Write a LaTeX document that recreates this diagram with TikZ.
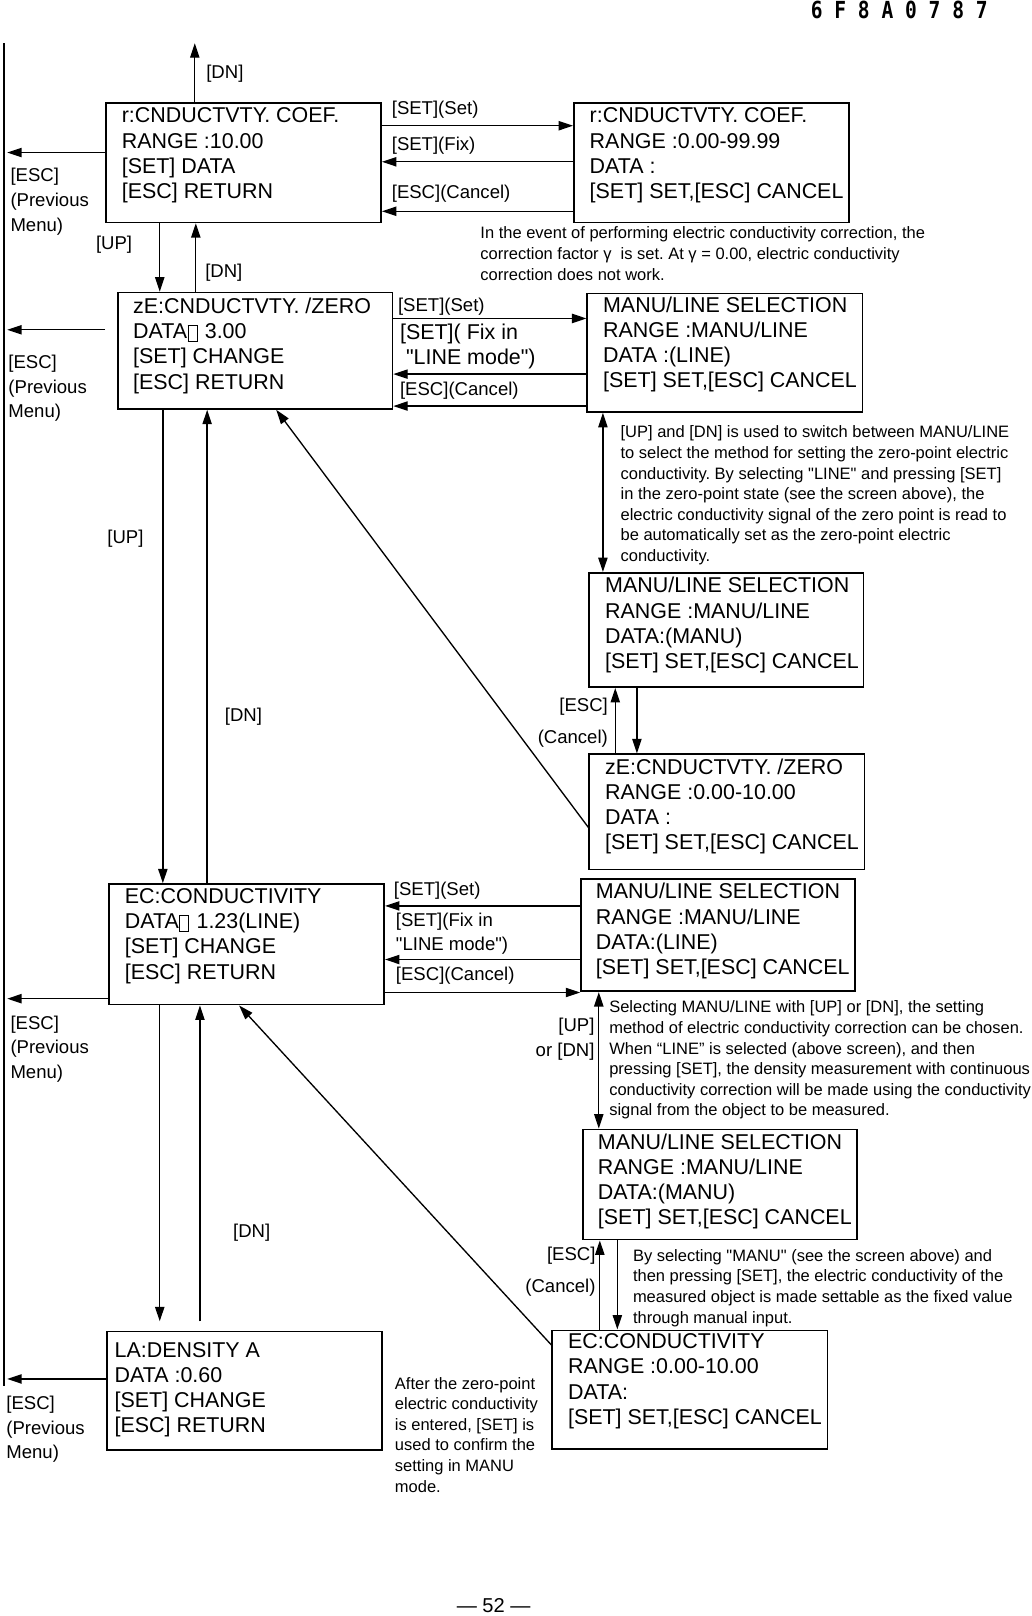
\documentclass[tikz,border=0pt]{standalone}
\usepackage{fontspec}
\setmainfont{Liberation Sans}[Ligatures=TeXOff]
\newfontfamily\hdrfont{DejaVu Sans Mono}
\usetikzlibrary{arrows.meta}
\frenchspacing
\newcommand\tofu{\kern0.5pt\raisebox{-2.5pt}{\setlength\fboxsep{0pt}\setlength\fboxrule{0.7pt}\fbox{\rule{0pt}{15pt}\rule{8pt}{0pt}}}\kern1.5pt}
\newcommand\scrn[8]{%
  \node[scrbox, minimum width=#4pt, minimum height=#5pt, anchor=north west] (#1) at (#2,#3) {};
  \node[scrtext] (#1t) at (#6,#7) {#8};
}
\tikzset{
  scrbox/.style={draw, line width=1.6pt, inner sep=0pt},
  scrtext/.style={font=\fontsize{20.8}{24.4}\selectfont, align=left, inner sep=0pt, anchor=north west},
  lbl/.style={font=\fontsize{18}{24}\selectfont, inner sep=0pt, align=left},
  lblc/.style={lbl, yshift=-2.5pt},
  note/.style={font=\fontsize{16}{20}\selectfont, inner sep=0pt, align=left, anchor=north west},
  conn/.style={line width=1.3pt},
  arr/.style={conn, -{Triangle[length=14pt,width=9pt]}},
  darr/.style={conn, {Triangle[length=14pt,width=9pt]}-{Triangle[length=14pt,width=9pt]}},
}
\begin{document}
\begin{tikzpicture}[x=1pt,y=-1pt]
\useasboundingbox[fill=white] (0,0) rectangle (1001,1568);

% header / footer
\node[font=\hdrfont\bfseries\fontsize{19}{19}\selectfont, inner sep=0pt] (hdr) at (872.5,10) {\scalebox{1}[1.2]{6 F 8 A 0 7 8 7}};
\node[font=\fontsize{19.5}{20}\selectfont, inner sep=0pt] (pg) at (479,1558) {— 52 —};

% screens
\scrn{A}{102}{99}{267}{116}{118}{104.5}{r:CNDUCTVTY. COEF.\\RANGE :10.00\\{}[SET] DATA\\{}[ESC] RETURN}
\scrn{B}{556}{99}{267}{116}{572}{104.5}{r:CNDUCTVTY. COEF.\\RANGE :0.00-99.99\\DATA :\\{}[SET] SET,[ESC] CANCEL}
\scrn{C}{114}{283}{266}{113}{129}{289}{zE:CNDUCTVTY. /ZERO\\DATA\tofu{} 3.00\\{}[SET] CHANGE\\{}[ESC] RETURN}
\scrn{D}{569}{284}{267}{115}{585}{288}{MANU/LINE SELECTION\\RANGE :MANU/LINE\\DATA :(LINE)\\{}[SET] SET,[ESC] CANCEL}
\scrn{E}{571}{555}{266}{111}{587}{560}{MANU/LINE SELECTION\\RANGE :MANU/LINE\\DATA:(MANU)\\{}[SET] SET,[ESC] CANCEL}
\scrn{F}{571}{731}{267}{112}{587}{736}{zE:CNDUCTVTY. /ZERO\\RANGE :0.00-10.00\\DATA :\\{}[SET] SET,[ESC] CANCEL}
\scrn{G}{105}{857}{267}{117}{121}{862}{EC:CONDUCTIVITY\\DATA\tofu{} 1.23(LINE)\\{}[SET] CHANGE\\{}[ESC] RETURN}
\scrn{H}{563}{852}{266}{109}{578}{857}{MANU/LINE SELECTION\\RANGE :MANU/LINE\\DATA:(LINE)\\{}[SET] SET,[ESC] CANCEL}
\scrn{I}{565}{1095}{266}{107}{580}{1100}{MANU/LINE SELECTION\\RANGE :MANU/LINE\\DATA:(MANU)\\{}[SET] SET,[ESC] CANCEL}
\scrn{J}{535}{1290}{267}{115}{551}{1294}{EC:CONDUCTIVITY\\RANGE :0.00-10.00\\DATA:\\{}[SET] SET,[ESC] CANCEL}
\scrn{K}{103}{1291}{267}{115}{111}{1302}{LA:DENSITY A\\DATA :0.60\\{}[SET] CHANGE\\{}[ESC] RETURN}

% left return line
\coordinate (Ltop) at (4,42);
\coordinate (Lbot) at (4,1345);
\draw[conn] (Ltop) -- (Lbot);

% top DN
\coordinate (topDN) at (189,42);
\draw[arr] (topDN |- A.north) -- (topDN);
\node[lblc, anchor=west] (lDN0) at (200,69) {[DN]};

% ESC to previous menu
\coordinate (e1) at (7,148);
\draw[arr] (A.west |- e1) -- (e1);
\coordinate (e2s) at (102,320);
\coordinate (e2) at (7,320);
\draw[arr] (e2s) -- (e2);
\coordinate (e3) at (7,969);
\draw[arr] (G.west |- e3) -- (e3);
\coordinate (e4) at (7,1338);
\draw[arr] (K.west |- e4) -- (e4);
\node[lbl, anchor=north west] (lE1) at (10,163.3) {[ESC]\\(Previous\\Menu)};
\node[lbl, anchor=north west] (lE2) at (8,344.3) {[ESC]\\(Previous\\Menu)};
\node[lbl, anchor=north west] (lE3) at (10,985.3) {[ESC]\\(Previous\\Menu)};
\node[lbl, anchor=north west] (lE4) at (6,1354.3) {[ESC]\\(Previous\\Menu)};

% A <-> B
\coordinate (ab1) at (0,122);
\coordinate (ab2) at (0,157);
\coordinate (ab3) at (0,205);
\draw[arr] (A.east |- ab1) -- (B.west |- ab1);
\draw[arr] (B.west |- ab2) -- (A.east |- ab2);
\draw[arr] (B.west |- ab3) -- (A.east |- ab3);
\node[lblc, anchor=west] (lab1) at (380,104) {[SET](Set)};
\node[lblc, anchor=west] (lab2) at (380,139) {[SET](Fix)};
\node[lblc, anchor=west] (lab3) at (380,185) {[ESC](Cancel)};

% A <-> C
\coordinate (ac1) at (155,0);
\coordinate (ac2) at (190,0);
\draw[arr] (ac1 |- A.south) -- (ac1 |- C.north);
\draw[arr] (ac2 |- C.north) -- (ac2 |- A.south);
\node[lblc, anchor=west] (lac1) at (93,235) {[UP]};
\node[lblc, anchor=west] (lac2) at (199,262) {[DN]};

% C <-> D
\coordinate (cd1) at (0,309);
\coordinate (cd2) at (0,363);
\coordinate (cd3) at (0,394);
\draw[arr] (C.east |- cd1) -- (D.west |- cd1);
\draw[arr] (D.west |- cd2) -- (C.east |- cd2);
\draw[arr] (D.west |- cd3) -- (C.east |- cd3);
\node[lblc, anchor=west] (lcd1) at (386,295) {[SET](Set)};
\node[scrtext] (lcd2) at (388,314.3) {[SET]( Fix in\\{}\ "LINE mode")};
\node[lblc, anchor=west] (lcd3) at (388,377) {[ESC](Cancel)};

% D <-> E, E <-> F
\coordinate (de) at (585,0);
\draw[darr] (de |- D.south) -- (de |- E.north);
\coordinate (ef1) at (618,0);
\coordinate (ef2) at (597,0);
\draw[arr] (ef1 |- E.south) -- (ef1 |- F.north);
\draw[arr] (ef2 |- F.north) -- (ef2 |- E.south);
\node[lblc, anchor=east] (lef1) at (590,683) {[ESC]};
\node[lblc, anchor=east] (lef2) at (590,714) {(Cancel)};

% F -> C diagonal
\coordinate (d1) at (0,803);
\coordinate (d1e) at (268,0);
\draw[arr] (F.west |- d1) -- (d1e |- C.south);

% C <-> G
\coordinate (cg1) at (158,0);
\coordinate (cg2) at (201,0);
\draw[arr] (cg1 |- C.south) -- (cg1 |- G.north);
\draw[arr] (cg2 |- G.north) -- (cg2 |- C.south);
\node[lblc, anchor=west] (lcg1) at (104,520) {[UP]};
\node[lblc, anchor=west] (lcg2) at (218,693) {[DN]};

% G <-> H
\coordinate (gh1) at (0,879);
\coordinate (gh2) at (0,931);
\coordinate (gh3) at (0,963);
\draw[arr] (H.west |- gh1) -- (G.east |- gh1);
\draw[arr] (H.west |- gh2) -- (G.east |- gh2);
\draw[arr, line width=1pt] (G.east |- gh3) -- (H.west |- gh3);
\node[lblc, anchor=west] (lgh1) at (382,862) {[SET](Set)};
\node[lbl, anchor=north west] (lgh2) at (384,885.3) {[SET](Fix in\\"LINE mode")};
\node[lblc, anchor=west] (lgh3) at (384,944) {[ESC](Cancel)};

% H <-> I, I <-> J
\coordinate (hi) at (581,0);
\draw[darr] (hi |- H.south) -- (hi |- I.north);
\node[lblc, anchor=east] (lhi1) at (577,994) {[UP]};
\node[lblc, anchor=east] (lhi2) at (577,1018) {or [DN]};
\coordinate (ij1) at (582,0);
\coordinate (ij2) at (599,0);
\draw[arr] (ij1 |- J.north) -- (ij1 |- I.south);
\draw[arr] (ij2 |- I.south) -- (ij2 |- J.north);
\node[lblc, anchor=east] (lij1) at (578,1216) {[ESC]};
\node[lblc, anchor=east] (lij2) at (578,1247) {(Cancel)};

% J -> G diagonal
\coordinate (d2) at (0,1305);
\coordinate (d2e) at (232,0);
\draw[arr] (J.west |- d2) -- (d2e |- G.south);

% G <-> K
\coordinate (gk1) at (155,1282);
\coordinate (gk2) at (194,1282);
\draw[arr] (gk1 |- G.south) -- (gk1);
\draw[arr] (gk2) -- (gk2 |- G.south);
\node[lblc, anchor=west] (lgk) at (226,1194) {[DN]};

% notes
\node[note] (n1) at (466,220) {In the event of performing electric conductivity correction, the\\correction factor γ\ \ is set. At γ = 0.00, electric conductivity\\correction does not work.};
\node[note] (n2) at (602,413) {[UP] and [DN] is used to switch between MANU/LINE\\to select the method for setting the zero-point electric\\conductivity. By selecting "LINE" and pressing [SET]\\in the zero-point state (see the screen above), the\\electric conductivity signal of the zero point is read to\\be automatically set as the zero-point electric\\conductivity.};
\node[note] (n3) at (591,971) {Selecting MANU/LINE with [UP] or [DN], the setting\\method of electric conductivity correction can be chosen.\\When “LINE” is selected (above screen), and then\\pressing [SET], the density measurement with continuous\\conductivity correction will be made using the conductivity\\signal from the object to be measured.};
\node[note] (n4) at (614,1212) {By selecting "MANU" (see the screen above) and\\then pressing [SET], the electric conductivity of the\\measured object is made settable as the fixed value\\through manual input.};
\node[note] (n5) at (383,1336) {After the zero-point\\electric conductivity\\is entered, [SET] is\\used to confirm the\\setting in MANU\\mode.};
\end{tikzpicture}
\end{document}
